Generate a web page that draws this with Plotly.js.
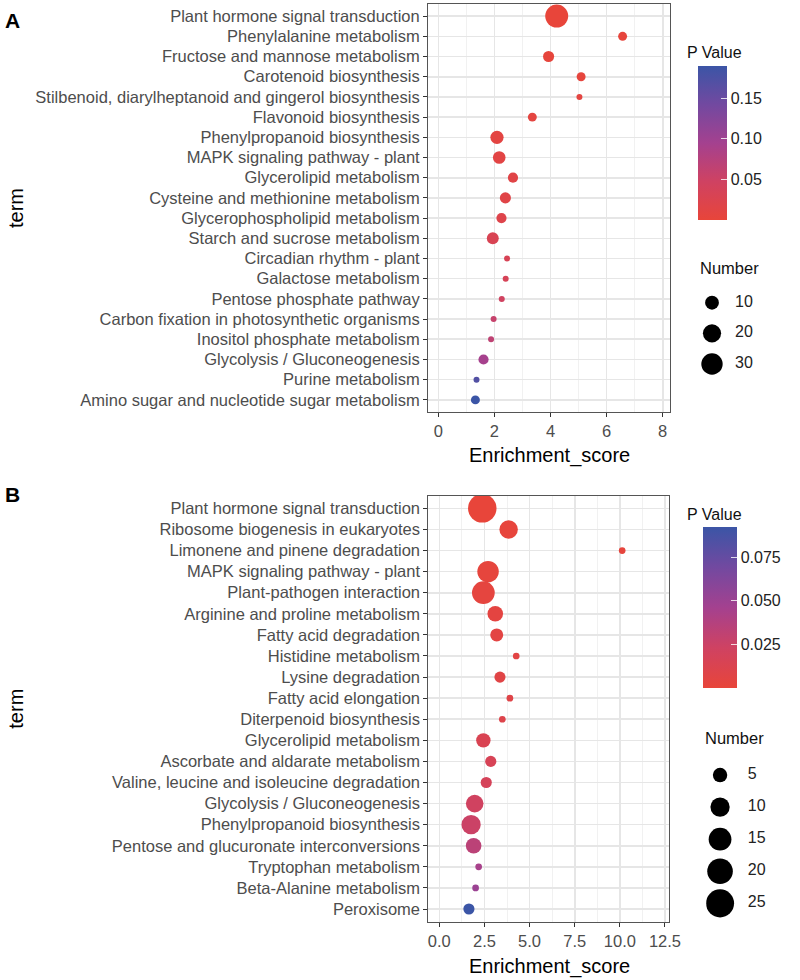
<!DOCTYPE html>
<html>
<head>
<meta charset="utf-8">
<script src="https://cdn.plot.ly/plotly-3.0.1.min.js"></script>
<style>
  body { margin: 0; background: #fff; }
  #chart { width: 800px; height: 980px; }
</style>
</head>
<body>
<div id="chart"></div>
<script>
// panel A
const termsA = [
  'Plant hormone signal transduction',
  'Phenylalanine metabolism',
  'Fructose and mannose metabolism',
  'Carotenoid biosynthesis',
  'Stilbenoid, diarylheptanoid and gingerol biosynthesis',
  'Flavonoid biosynthesis',
  'Phenylpropanoid biosynthesis',
  'MAPK signaling pathway - plant',
  'Glycerolipid metabolism',
  'Cysteine and methionine metabolism',
  'Glycerophospholipid metabolism',
  'Starch and sucrose metabolism',
  'Circadian rhythm - plant',
  'Galactose metabolism',
  'Pentose phosphate pathway',
  'Carbon fixation in photosynthetic organisms',
  'Inositol phosphate metabolism',
  'Glycolysis / Gluconeogenesis',
  'Purine metabolism',
  'Amino sugar and nucleotide sugar metabolism'
];
const scoreA = [4.22, 6.57, 3.93, 5.09, 5.03, 3.35, 2.09, 2.17, 2.66, 2.39,
                2.25, 1.94, 2.45, 2.40, 2.26, 1.97, 1.88, 1.61, 1.36, 1.32];
const countA = [36, 4, 6, 4, 3, 4, 9, 8, 5, 6, 5, 7, 3, 3, 3, 3, 3, 5, 3, 4];
const pvalA = [0.0001, 0.002, 0.003, 0.004, 0.008, 0.008, 0.010, 0.012, 0.015, 0.016,
               0.020, 0.030, 0.032, 0.035, 0.045, 0.058, 0.066, 0.093, 0.170, 0.190];
const sizeBreaksA = [10, 20, 30];

// panel B
const termsB = [
  'Plant hormone signal transduction',
  'Ribosome biogenesis in eukaryotes',
  'Limonene and pinene degradation',
  'MAPK signaling pathway - plant',
  'Plant-pathogen interaction',
  'Arginine and proline metabolism',
  'Fatty acid degradation',
  'Histidine metabolism',
  'Lysine degradation',
  'Fatty acid elongation',
  'Diterpenoid biosynthesis',
  'Glycerolipid metabolism',
  'Ascorbate and aldarate metabolism',
  'Valine, leucine and isoleucine degradation',
  'Glycolysis / Gluconeogenesis',
  'Phenylpropanoid biosynthesis',
  'Pentose and glucuronate interconversions',
  'Tryptophan metabolism',
  'Beta-Alanine metabolism',
  'Peroxisome'
];
const scoreB = [2.38, 3.84, 10.13, 2.70, 2.44, 3.10, 3.18, 4.26, 3.36, 3.91,
                3.49, 2.44, 2.85, 2.60, 1.96, 1.76, 1.90, 2.18, 2.01, 1.64];
const countB = [26, 9, 2, 13, 15, 6, 4, 2, 3, 2, 2, 5, 3, 3, 8, 10, 6, 2, 2, 3];
const pvalB = [0.0001, 0.001, 0.002, 0.002, 0.003, 0.004, 0.005, 0.006, 0.007, 0.008,
               0.010, 0.014, 0.016, 0.018, 0.022, 0.025, 0.034, 0.044, 0.050, 0.092];
const sizeBreaksB = [5, 10, 15, 20, 25];

const W = 800, H = 980;
const FONT = 'Liberation Sans, Arial, Helvetica, sans-serif';
const GREY = '#4D4D4D';

// red -> blue, with extra stops so the middle goes magenta like ggplot's Lab blend
const pScale = [
  [0, '#E8453A'], [0.25, '#CF4262'], [0.5, '#A4418F'], [0.75, '#7249A0'], [1, '#3B55A6']
];

// ggplot-style area scale: diameter grows with sqrt of the rescaled count
function dotSize(n, lo, hi, dmin, dmax) {
  return dmin + (dmax - dmin) * Math.sqrt((n - lo) / (hi - lo));
}
const loA = Math.min(...countA), hiA = Math.max(...countA);
const loB = Math.min(...countB), hiB = Math.max(...countB);
const sA = n => dotSize(n, loA, hiA, 6, 23);
const sB = n => dotSize(n, loB, hiB, 6.7, 28.5);

const px = v => v / W;
const py = v => 1 - v / H;

function colorbar(x, top, len, thick, vals, texts) {
  return {
    x: px(x), xanchor: 'left', xpad: 0,
    y: py(top), yanchor: 'top', ypad: 0,
    len: len, lenmode: 'pixels',
    thickness: thick, thicknessmode: 'pixels',
    outlinewidth: 0,
    tickvals: vals, ticktext: texts,
    ticks: 'inside', ticklen: 6, tickwidth: 1, tickcolor: 'rgba(255,255,255,0.8)',
    tickfont: {family: FONT, size: 16, color: '#222'},
    title: {text: ''}
  };
}

const data = [
  {
    type: 'scatter', mode: 'markers', xaxis: 'x', yaxis: 'y',
    x: scoreA, y: termsA,
    marker: {
      size: countA.map(sA), color: pvalA, colorscale: pScale,
      cmin: Math.min(...pvalA), cmax: Math.max(...pvalA),
      line: {width: 0}, opacity: 1,
      showscale: true,
      colorbar: colorbar(697.7, 65.7, 153.6, 29, [0.05, 0.10, 0.15], ['0.05', '0.10', '0.15'])
    }
  },
  {
    type: 'scatter', mode: 'markers', xaxis: 'x2', yaxis: 'y2',
    x: scoreB, y: termsB,
    marker: {
      size: countB.map(sB), color: pvalB, colorscale: pScale,
      cmin: Math.min(...pvalB), cmax: Math.max(...pvalB),
      line: {width: 0}, opacity: 1,
      showscale: true,
      colorbar: colorbar(702.7, 527.3, 161, 34, [0.025, 0.05, 0.075], ['0.025', '0.050', '0.075'])
    }
  },
  // size legends
  {
    type: 'scatter', mode: 'markers', xaxis: 'x3', yaxis: 'y3',
    x: sizeBreaksA.map(() => 0), y: sizeBreaksA.map(String),
    marker: {size: sizeBreaksA.map(sA), color: '#000', opacity: 1, line: {width: 0}}
  },
  {
    type: 'scatter', mode: 'text', xaxis: 'x3', yaxis: 'y3',
    x: sizeBreaksA.map(() => 1), y: sizeBreaksA.map(String),
    text: sizeBreaksA.map(String), textposition: 'middle right',
    textfont: {family: FONT, size: 16, color: '#222'}
  },
  {
    type: 'scatter', mode: 'markers', xaxis: 'x4', yaxis: 'y4',
    x: sizeBreaksB.map(() => 0), y: sizeBreaksB.map(String),
    marker: {size: sizeBreaksB.map(sB), color: '#000', opacity: 1, line: {width: 0}}
  },
  {
    type: 'scatter', mode: 'text', xaxis: 'x4', yaxis: 'y4',
    x: sizeBreaksB.map(() => 1), y: sizeBreaksB.map(String),
    text: sizeBreaksB.map(String), textposition: 'middle right',
    textfont: {family: FONT, size: 16, color: '#222'}
  }
];

function xAx(domain, range, dtick, minor, fmt, anchor) {
  return {
    domain: domain, range: range, anchor: anchor,
    tick0: 0, dtick: dtick, tickformat: fmt,
    ticks: 'outside', ticklen: 4, tickwidth: 1, tickcolor: '#333',
    tickfont: {family: FONT, size: 16.5, color: GREY},
    showgrid: true, gridcolor: '#E6E6E6', gridwidth: 1.6,
    minor: {dtick: minor, tick0: 0, showgrid: true, gridcolor: '#F0F0F0', gridwidth: 0.9, ticks: ''},
    zeroline: false, showline: true, mirror: true, linecolor: '#555', linewidth: 1,
    fixedrange: true
  };
}
function yAx(domain, terms, anchor) {
  return {
    domain: domain, anchor: anchor,
    type: 'category', categoryorder: 'array', categoryarray: terms,
    range: [terms.length - 0.4, -0.6],
    ticks: 'outside', ticklen: 4, tickwidth: 1, tickcolor: '#333',
    tickfont: {family: FONT, size: 16.5, color: GREY},
    showgrid: true, gridcolor: '#E6E6E6', gridwidth: 1.6,
    zeroline: false, showline: true, mirror: true, linecolor: '#555', linewidth: 1,
    fixedrange: true
  };
}
function legendY(domainTop, domainBottom, breaks) {
  return {
    domain: [py(domainBottom), py(domainTop)], type: 'category',
    categoryorder: 'array', categoryarray: breaks.map(String),
    range: [breaks.length - 0.5, -0.5], visible: false, fixedrange: true
  };
}

const ann = (text, x, y, opts) => Object.assign({
  text: text, xref: 'paper', yref: 'paper', x: px(x), y: py(y),
  showarrow: false, xanchor: 'center', yanchor: 'middle',
  font: {family: FONT, size: 20, color: '#000'}
}, opts || {});

const layout = {
  width: W, height: H,
  margin: {l: 0, r: 0, t: 0, b: 0},
  paper_bgcolor: '#fff', plot_bgcolor: '#fff',
  showlegend: false, hovermode: false,
  font: {family: FONT, color: GREY},
  xaxis: xAx([px(428), px(670)], [-0.37, 8.26], 2, 1, '', 'y'),
  yaxis: yAx([py(412), py(4)], termsA, 'x'),
  xaxis2: xAx([px(428.3), px(669.3)], [-0.61, 12.74], 2.5, 1.25, '.1f', 'y2'),
  yaxis2: yAx([py(921.7), py(495.7)], termsB, 'x2'),
  xaxis3: {domain: [px(700.5), px(769.5)], range: [-0.5, 2.5], visible: false, fixedrange: true, anchor: 'y3'},
  yaxis3: Object.assign(legendY(287.4, 379.3, sizeBreaksA), {anchor: 'x3'}),
  xaxis4: {domain: [px(706.2), px(789.3)], range: [-0.5, 2.5], visible: false, fixedrange: true, anchor: 'y4'},
  yaxis4: Object.assign(legendY(759, 919.4, sizeBreaksB), {anchor: 'x4'}),
  annotations: [
    ann('<b>A</b>', 12, 20, {font: {family: FONT, size: 21, color: '#000'}}),
    ann('<b>B</b>', 12, 495, {font: {family: FONT, size: 21, color: '#000'}}),
    ann('term', 16, 208, {textangle: -90}),
    ann('term', 16, 708.7, {textangle: -90}),
    ann('Enrichment_score', 549, 455),
    ann('Enrichment_score', 549, 966),
    ann('P Value', 685, 53, {xanchor: 'left', font: {family: FONT, size: 16, color: '#111'}}),
    ann('P Value', 685, 514, {xanchor: 'left', font: {family: FONT, size: 16, color: '#111'}}),
    ann('Number', 698, 268, {xanchor: 'left', font: {family: FONT, size: 16.5, color: '#111'}}),
    ann('Number', 702.7, 738, {xanchor: 'left', font: {family: FONT, size: 16.5, color: '#111'}})
  ]
};

Plotly.newPlot('chart', data, layout, {displayModeBar: false, staticPlot: true});
</script>
</body>
</html>
